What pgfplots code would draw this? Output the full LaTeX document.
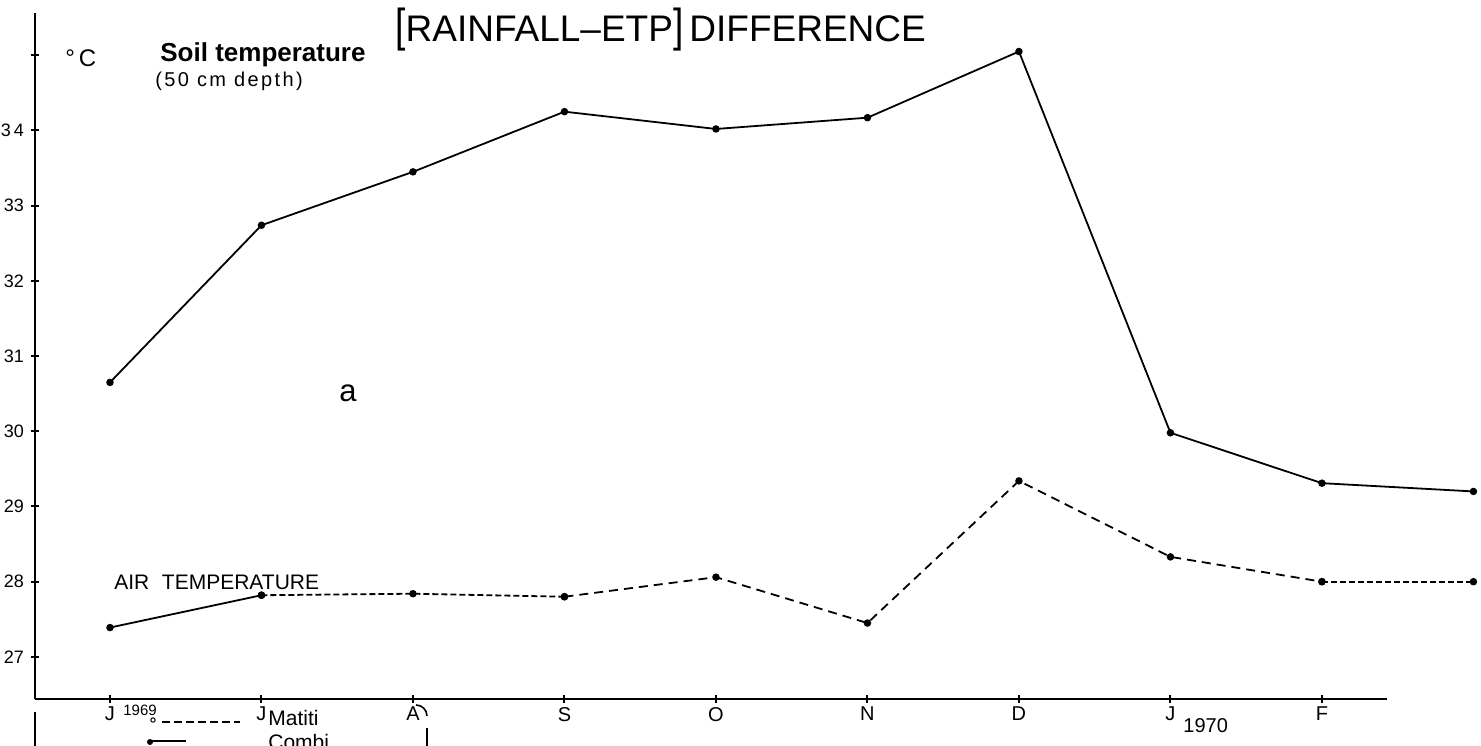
\documentclass[border=0pt]{standalone}
\usepackage{fontspec}
\setmainfont{Liberation Sans}
\usepackage{graphicx}
\usepackage{pgfplots}
\pgfplotsset{compat=1.18}
\begin{document}
\begin{tikzpicture}
\path[use as bounding box] (-17.5pt,-23pt) rectangle (723pt,349.5pt);
\begin{axis}[
  at={(0pt,0pt)}, anchor=south west,
  scale only axis, width=723pt, height=349.5pt,
  xmin=-0.495, xmax=9.05, ymin=26.44, ymax=35.735,
  clip=false,
  axis line style={draw=none},
  xtick={0,...,8}, xticklabels={J,J,A,S,O,N,D,J,F},
  ytick={27,...,35}, yticklabels={27,28,29,30,31,32,33,3\,4,{}},
  xtick pos=bottom, ytick pos=left,
  tick align=center, major tick length=4pt,
  tick style={black, line width=1pt},
  xticklabel style={font=\fontsize{10}{12}\selectfont, yshift=1.5pt},
  yticklabel style={font=\fontsize{9}{10}\selectfont},
]
\draw[line width=1.4pt] (axis cs:-0.495,26.44) -- (axis cs:8.43,26.44);
\draw[line width=1.4pt] (axis cs:-0.495,26.44) -- (axis cs:-0.495,35.56);
% soil temperature (50 cm depth)
\addplot[black, line width=0.9pt, mark=*, mark size=1.4pt] coordinates {
 (0,30.65) (1,32.74) (2,33.45) (3,34.25) (4,34.02) (5,34.17) (6,35.05) (7,29.98) (8,29.31) (9,29.2)};
% air temperature
\addplot[black, line width=0.9pt, mark=*, mark size=1.4pt] coordinates {
 (0,27.39) (1,27.82)};
\addplot[black, line width=0.9pt, dash pattern=on 3pt off 1.5pt, mark=*, mark size=1.4pt, mark options={solid}] coordinates {
 (1,27.82) (2,27.84) (3,27.8)};
\addplot[black, line width=0.9pt, dash pattern=on 4.5pt off 3pt, mark=*, mark size=1.4pt, mark options={solid}] coordinates {
 (3,27.8) (4,28.06) (5,27.45) (6,29.34) (7,28.33) (8,28.0)};
\addplot[black, line width=0.9pt, dash pattern=on 3pt off 1.5pt, mark=*, mark size=1.4pt, mark options={solid}] coordinates {
 (8,28.0) (9,28.0)};
\end{axis}
\begin{scope}[shift={(-17.5pt,349.5pt)}, x=0.5pt, y=-0.5pt]
\node[anchor=base west, inner sep=0, font=\fontsize{18.5}{20}\selectfont] at (395,42) {\scalebox{1}[1.25]{[}RAINFALL–ETP\scalebox{1}[1.25]{]}\,DIFFERENCE};
\node[anchor=base west, inner sep=0, font=\fontsize{12}{14}\selectfont] at (65,67) {°\,C};
\node[anchor=base west, inner sep=0, font=\bfseries\fontsize{13}{15}\selectfont] at (160,62) {Soil temperature};
\node[anchor=base west, inner sep=0, font=\fontsize{10}{12}\selectfont\addfontfeatures{LetterSpace=12}] at (155,87) {(50 cm depth)};
\node[anchor=base, inner sep=0, font=\fontsize{15.5}{17}\selectfont] at (348,401) {a};
\node[anchor=base west, inner sep=0, font=\fontsize{10.5}{12}\selectfont] at (114,589) {AIR\hspace{0.6em}TEMPERATURE};
\node[anchor=base west, inner sep=0, font=\fontsize{7.5}{9}\selectfont] at (123,715) {1969};
\draw[line width=0.5pt] (153,720) circle[radius=1.1pt];
\draw[line width=0.6pt, dash pattern=on 4pt off 2pt] (162,722) -- (240,722);
\node[anchor=base west, inner sep=0, font=\fontsize{10}{12}\selectfont] at (1183,732) {1970};
\node[anchor=base west, inner sep=0, font=\fontsize{10.5}{12}\selectfont] at (268,725) {Matiti};
\node[anchor=base west, inner sep=0, font=\fontsize{10.5}{12}\selectfont] at (268,749) {Combi};
\draw[line width=1.4pt] (35,712) -- (35,750);
\fill (150,742) circle[radius=1.5pt];
\draw[line width=1pt] (150,741) -- (186,741);
\draw[line width=0.8pt] (427,728) -- (427,750);
\draw[line width=0.8pt] (416,705) to[out=0,in=90] (427,716);
\end{scope}
\end{tikzpicture}
\end{document}
